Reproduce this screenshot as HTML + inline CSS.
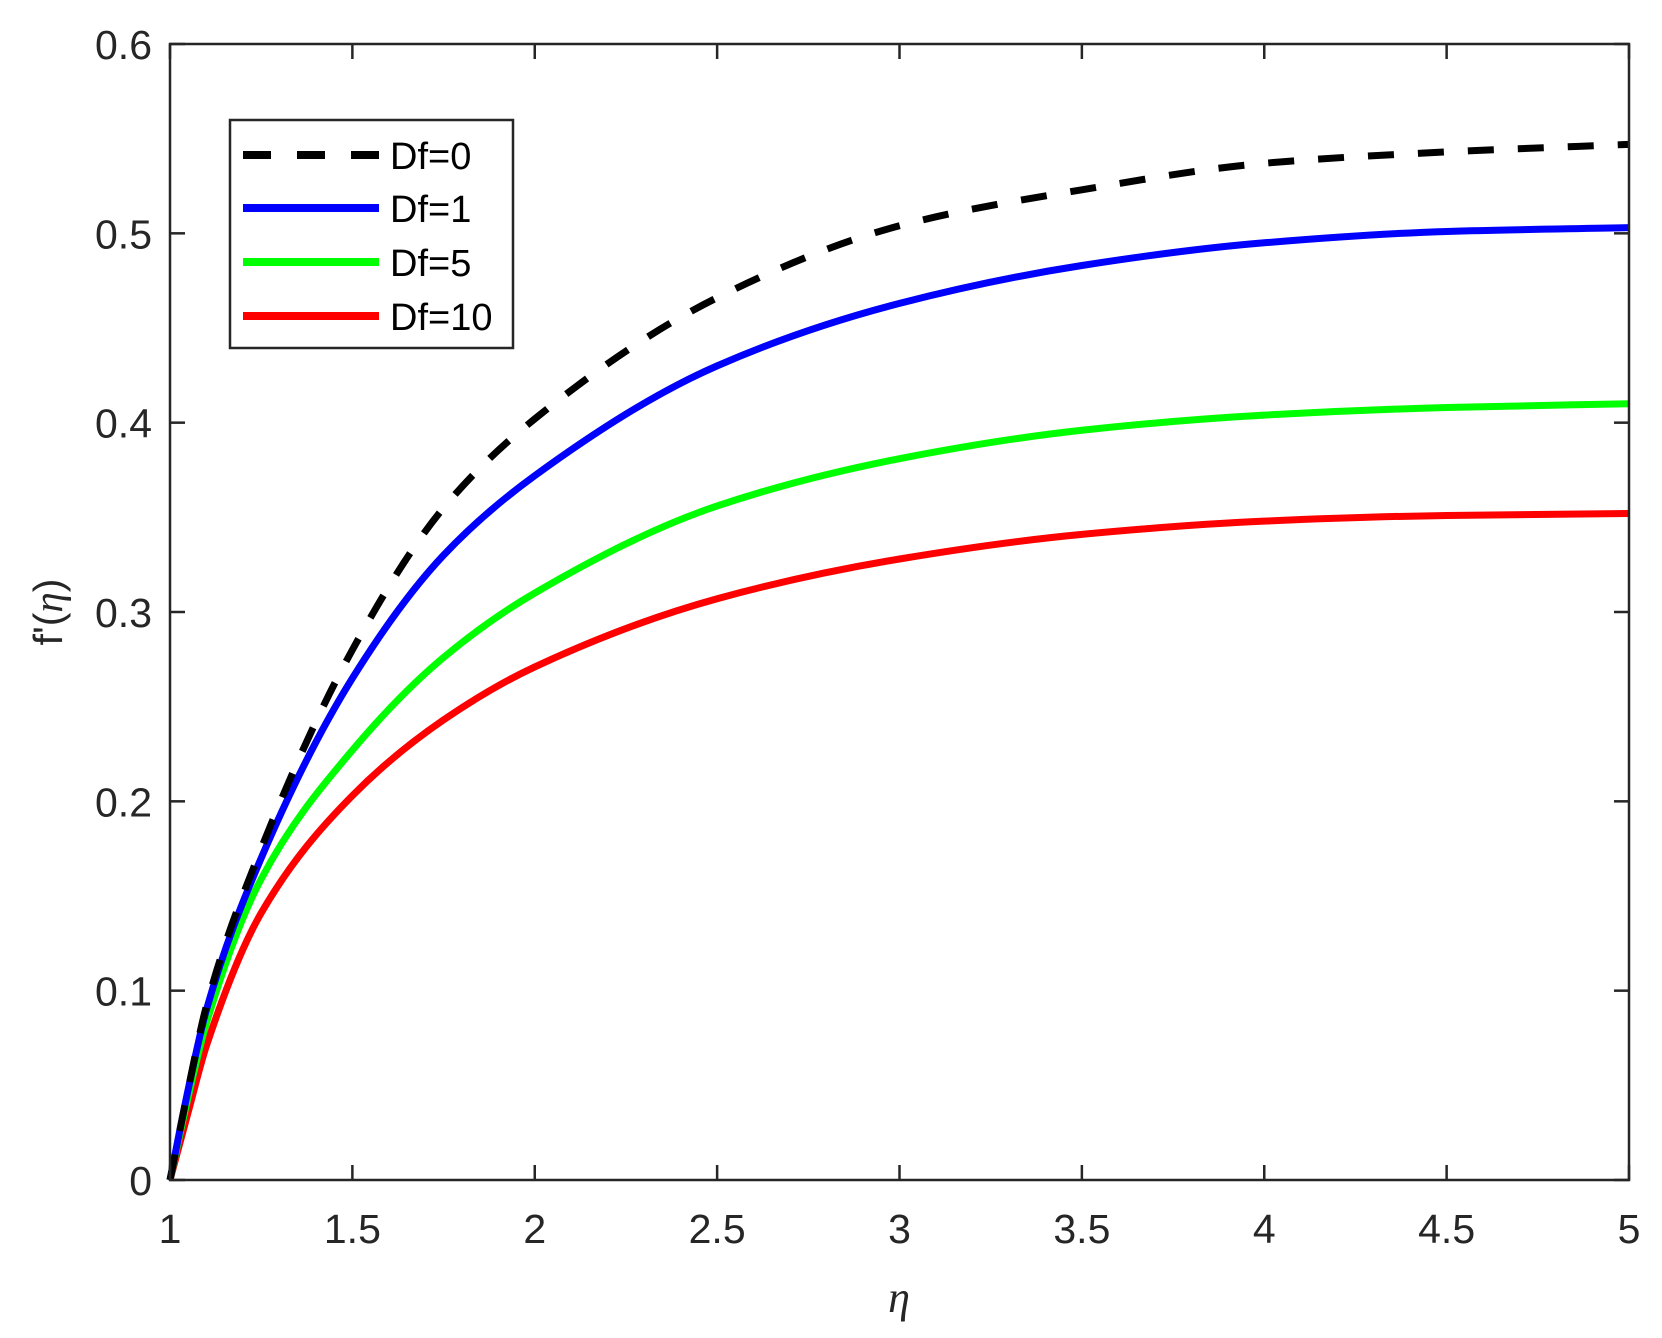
<!DOCTYPE html>
<html><head><meta charset="utf-8"><style>
html,body{margin:0;padding:0;background:#fff;}
svg{display:block;font-family:"Liberation Sans",Arial,sans-serif;}
</style></head><body>
<svg id="chart" width="1662" height="1338" viewBox="0 0 1662 1338">
<rect x="0" y="0" width="1662" height="1338" fill="#fff"/>
<g id="series"></g>
<g id="axes"></g>
<g id="legend"></g>
</svg>
<script>
const xs = [1, 1.05, 1.1, 1.25, 1.5, 1.75, 2, 2.5, 3, 3.5, 4, 4.5, 5];
const df0 = [0, 0.048, 0.092, 0.175, 0.280, 0.355, 0.402, 0.466, 0.504, 0.523, 0.537, 0.543, 0.547];
const df1 = [0, 0.048, 0.090, 0.170, 0.265, 0.330, 0.372, 0.430, 0.463, 0.483, 0.495, 0.501, 0.503];
const df5 = [0, 0.044, 0.083, 0.159, 0.227, 0.276, 0.310, 0.356, 0.381, 0.396, 0.404, 0.408, 0.410];
const df10 = [0, 0.036, 0.071, 0.141, 0.203, 0.243, 0.271, 0.307, 0.328, 0.341, 0.348, 0.351, 0.352];
const xTicks = [1, 1.5, 2, 2.5, 3, 3.5, 4, 4.5, 5];
const yTicks = [0, 0.1, 0.2, 0.3, 0.4, 0.5, 0.6];
const seriesNames = ["Df=0", "Df=1", "Df=5", "Df=10"];

const L = 170, R = 1629, T = 44, B = 1180;
const X = v => L + (v - 1) / 4 * (R - L);
const Y = v => B - v / 0.6 * (B - T);
const NS = "http://www.w3.org/2000/svg";
function mk(tag, attrs, parent) {
  const e = document.createElementNS(NS, tag);
  for (const k in attrs) e.setAttribute(k, attrs[k]);
  parent.appendChild(e);
  return e;
}
function pathFor(ys) {
  const n = xs.length;
  const h = [], d = [];
  for (let i = 0; i < n - 1; i++) { h.push(xs[i+1]-xs[i]); d.push((ys[i+1]-ys[i])/h[i]); }
  const m = new Array(n);
  m[0] = d[0]; m[n-1] = d[n-2];
  for (let i = 1; i < n - 1; i++) {
    if (d[i-1]*d[i] <= 0) m[i] = 0;
    else { const w1 = 2*h[i]+h[i-1], w2 = h[i]+2*h[i-1]; m[i] = (w1+w2)/(w1/d[i-1]+w2/d[i]); }
  }
  let s = "M" + X(xs[0]) + "," + Y(ys[0]);
  for (let i = 0; i < n - 1; i++) {
    const c1x = xs[i] + h[i]/3, c1y = ys[i] + m[i]*h[i]/3;
    const c2x = xs[i+1] - h[i]/3, c2y = ys[i+1] - m[i+1]*h[i]/3;
    s += " C" + X(c1x) + "," + Y(c1y) + " " + X(c2x) + "," + Y(c2y) + " " + X(xs[i+1]) + "," + Y(ys[i+1]);
  }
  return s;
}
const sg = document.getElementById("series");
const specs = [
  {ys: df10, c: "#ff0000", dash: null, n: "series-df10"},
  {ys: df5, c: "#00ff00", dash: null, n: "series-df5"},
  {ys: df1, c: "#0000ff", dash: null, n: "series-df1"},
  {ys: df0, c: "#000000", dash: "26 24", n: "series-df0"}
];
specs.forEach(s => {
  const el = mk("path", {d: pathFor(s.ys), fill: "none", stroke: s.c, "stroke-width": 7}, sg);
  if (s.dash) el.setAttribute("stroke-dasharray", s.dash);
  
  
});
const ag = document.getElementById("axes");
const box = mk("rect", {x: L, y: T, width: R - L, height: B - T, fill: "none", stroke: "#262626", "stroke-width": 2.5}, ag);


xTicks.forEach(v => {
  const x = X(v);
  mk("line", {x1: x, x2: x, y1: B, y2: B - 15, stroke: "#262626", "stroke-width": 2.5}, ag);
  mk("line", {x1: x, x2: x, y1: T, y2: T + 15, stroke: "#262626", "stroke-width": 2.5}, ag);
  const t = mk("text", {x: x, y: B + 63, "text-anchor": "middle", "font-size": 41, fill: "#262626"}, ag);
  t.textContent = String(v);
  
  
});
yTicks.forEach(v => {
  const y = Y(v);
  mk("line", {x1: L, x2: L + 15, y1: y, y2: y, stroke: "#262626", "stroke-width": 2.5}, ag);
  mk("line", {x1: R, x2: R - 15, y1: y, y2: y, stroke: "#262626", "stroke-width": 2.5}, ag);
  const t = mk("text", {x: L - 18, y: y + 15, "text-anchor": "end", "font-size": 41, fill: "#262626"}, ag);
  t.textContent = v === 0 ? "0" : v.toFixed(1);
  
  
});
const xl = mk("text", {x: 899, y: 1312, "text-anchor": "middle", "font-size": 44, "font-style": "italic", fill: "#262626", "font-family": "Liberation Serif, serif"}, ag);
xl.textContent = "η";


const yl = mk("text", {x: 0, y: 0, "text-anchor": "middle", "font-size": 41, fill: "#262626", transform: "translate(62,612) rotate(-90)"}, ag);
yl.innerHTML = "f'(<tspan font-style='italic' font-family='Liberation Serif, serif'>η</tspan>)";



const lg = document.getElementById("legend");


mk("rect", {x: 230, y: 120, width: 283, height: 228, fill: "#fff", stroke: "#262626", "stroke-width": 2.5}, lg);
const lc = ["#000000", "#0000ff", "#00ff00", "#ff0000"];
const ly = [155, 208, 262, 316];
seriesNames.forEach((n, i) => {
  const g = mk("g", {}, lg);
  
  
  const ln = mk("line", {x1: 243, x2: 379, y1: ly[i], y2: ly[i], stroke: lc[i], "stroke-width": 8}, g);
  if (i === 0) ln.setAttribute("stroke-dasharray", "28 26");
  const t = mk("text", {x: 390, y: ly[i] + 14, "font-size": 38, fill: "#000"}, g);
  t.textContent = n;
});
</script>
</body></html>
